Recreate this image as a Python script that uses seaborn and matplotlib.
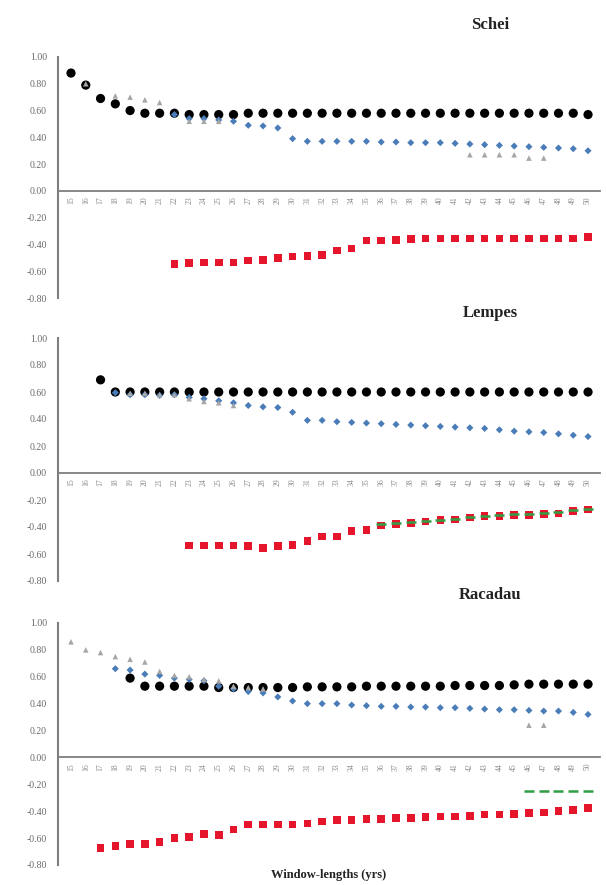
import numpy as np
import pandas as pd
import matplotlib
matplotlib.use("Agg")
import matplotlib.pyplot as plt
from matplotlib.ticker import FixedLocator, FixedFormatter
import seaborn as sns

sns.set_style("white")
plt.rcParams['font.family'] = ['Liberation Serif', 'DejaVu Serif']
plt.rcParams['axes.unicode_minus'] = False

N = np.nan
windows = list(range(15, 51))  # 36 window lengths
ytick_vals = [-0.8, -0.6, -0.4, -0.2, 0.0, 0.2, 0.4, 0.6, 0.8, 1.0]
ytick_labels = ["-0.80", "-0.60", "-0.40", "-0.20", "0.00", "0.20", "0.40", "0.60", "0.80", "1.00"]

# ---------------- Schei ----------------
schei_black = [0.88, 0.79, 0.69, 0.65, 0.60, 0.58, 0.58, 0.58, 0.57, 0.57, 0.57, 0.57,
               0.58, 0.58, 0.58, 0.58, 0.58, 0.58, 0.58, 0.58, 0.58, 0.58, 0.58, 0.58,
               0.58, 0.58, 0.58, 0.58, 0.58, 0.58, 0.58, 0.58, 0.58, 0.58, 0.58, 0.57]
schei_blue = [N, N, N, N, N, N, N, 0.57, 0.54, 0.54, 0.53, 0.52,
              0.49, 0.485, 0.47, 0.39, 0.37, 0.37, 0.37, 0.37, 0.37, 0.365, 0.365, 0.36,
              0.36, 0.36, 0.355, 0.35, 0.345, 0.34, 0.335, 0.33, 0.325, 0.32, 0.315, 0.30]
schei_tri = [N, 0.80, N, 0.71, 0.70, 0.68, 0.66, N, 0.52, 0.52, 0.52, N,
             N, N, N, N, N, N, N, N, N, N, N, N,
             N, N, N, 0.27, 0.27, 0.27, 0.27, 0.245, 0.245, N, N, N]
schei_red = [N, N, N, N, N, N, N, -0.545, -0.54, -0.535, -0.535, -0.535,
             -0.52, -0.515, -0.50, -0.49, -0.485, -0.48, -0.445, -0.43, -0.37, -0.37, -0.365, -0.36,
             -0.355, -0.355, -0.355, -0.355, -0.355, -0.355, -0.355, -0.355, -0.355, -0.355, -0.355, -0.345]
schei_green = [N] * 36

# ---------------- Lempes ----------------
lempes_black = [N, N, 0.69, 0.60, 0.60, 0.60, 0.60, 0.60, 0.60, 0.60, 0.60, 0.60,
                0.60, 0.60, 0.60, 0.60, 0.60, 0.60, 0.60, 0.60, 0.60, 0.60, 0.60, 0.60,
                0.60, 0.60, 0.60, 0.60, 0.60, 0.60, 0.60, 0.60, 0.60, 0.60, 0.60, 0.60]
lempes_blue = [N, N, N, 0.595, 0.58, 0.58, 0.575, 0.58, 0.56, 0.55, 0.535, 0.52,
               0.50, 0.49, 0.485, 0.45, 0.39, 0.39, 0.38, 0.375, 0.37, 0.365, 0.36, 0.355,
               0.35, 0.345, 0.34, 0.335, 0.33, 0.32, 0.31, 0.305, 0.30, 0.29, 0.28, 0.27]
lempes_tri = [N, N, N, N, 0.59, 0.59, 0.58, 0.58, 0.55, 0.53, 0.52, 0.50,
              N, N, N, N, N, N, N, N, N, N, N, N,
              N, N, N, N, N, N, N, N, N, N, N, N]
lempes_red = [N, N, N, N, N, N, N, N, -0.537, -0.537, -0.537, -0.537,
              -0.54, -0.555, -0.54, -0.535, -0.505, -0.47, -0.47, -0.43, -0.42, -0.39, -0.38, -0.37,
              -0.36, -0.35, -0.345, -0.33, -0.32, -0.32, -0.31, -0.31, -0.305, -0.30, -0.28, -0.27]
lempes_green = [N, N, N, N, N, N, N, N, N, N, N, N,
                N, N, N, N, N, N, N, N, N, -0.38, -0.37, -0.36,
                -0.355, -0.345, -0.34, -0.325, -0.315, -0.31, -0.305, -0.30, -0.295, -0.29, -0.275, -0.265]

# ---------------- Racadau ----------------
racadau_black = [N, N, N, N, 0.59, 0.53, 0.53, 0.53, 0.53, 0.53, 0.52, 0.52,
                 0.52, 0.52, 0.52, 0.52, 0.525, 0.525, 0.525, 0.525, 0.53, 0.53, 0.53, 0.53,
                 0.53, 0.53, 0.535, 0.535, 0.535, 0.535, 0.54, 0.545, 0.545, 0.545, 0.545, 0.545]
racadau_blue = [N, N, N, 0.66, 0.65, 0.62, 0.61, 0.59, 0.58, 0.57, 0.53, 0.51,
                0.49, 0.48, 0.45, 0.42, 0.40, 0.40, 0.40, 0.39, 0.385, 0.38, 0.38, 0.375,
                0.375, 0.37, 0.37, 0.365, 0.36, 0.355, 0.355, 0.35, 0.345, 0.345, 0.335, 0.32]
racadau_tri = [0.86, 0.80, 0.78, 0.75, 0.73, 0.71, 0.64, 0.61, 0.60, 0.58, 0.57, 0.53,
               0.52, 0.51, N, N, N, N, N, N, N, N, N, N,
               N, N, N, N, N, N, N, 0.24, 0.24, N, N, N]
racadau_red = [N, N, -0.675, -0.66, -0.645, -0.645, -0.63, -0.60, -0.59, -0.57, -0.575, -0.535,
               -0.50, -0.50, -0.50, -0.50, -0.49, -0.475, -0.465, -0.465, -0.46, -0.46, -0.45, -0.45,
               -0.445, -0.44, -0.44, -0.435, -0.425, -0.425, -0.42, -0.415, -0.41, -0.40, -0.39, -0.375]
racadau_green = [N, N, N, N, N, N, N, N, N, N, N, N,
                 N, N, N, N, N, N, N, N, N, N, N, N,
                 N, N, N, N, N, N, N, -0.25, -0.25, -0.25, -0.25, -0.25]

sites = ["Schei", "Lempes", "Racadau"]
site_data = {
    "Schei": (schei_black, schei_blue, schei_tri, schei_red, schei_green),
    "Lempes": (lempes_black, lempes_blue, lempes_tri, lempes_red, lempes_green),
    "Racadau": (racadau_black, racadau_blue, racadau_tri, racadau_red, racadau_green),
}

styles = [
    dict(marker="o", color="#000000", s=44, edgecolor="none"),
    dict(marker="D", color="#4a7db8", s=13, edgecolor="none"),
    dict(marker="^", color="#a6a6a6", s=16, edgecolor="none"),
    dict(marker="s", color="#e5162c", s=30, edgecolor="none"),
    dict(marker="_", color="#2f9e44", s=50, linewidth=1.8),
]

fig = plt.figure(figsize=(6.06, 8.85), dpi=100)
W, H = 606.0, 885.0
panel_px = [(57, 298), (338, 581), (623, 865)]
title_y = [25, 313, 595]
left_px, right_px = 58, 600
idx = np.arange(len(windows))

for k, site in enumerate(sites):
    top, bot = panel_px[k]
    ax = fig.add_axes([left_px / W, 1 - bot / H, (right_px - left_px) / W, (bot - top) / H])
    for series, st in zip(site_data[site], styles):
        df = pd.DataFrame({"x": idx, "y": series}).dropna()
        sns.scatterplot(data=df, x="x", y="y", ax=ax, legend=False, zorder=3, **st)
    ax.set_ylim(-0.8, 1.0)
    ax.set_xlim(-0.88, 35.81)
    ax.yaxis.set_major_locator(FixedLocator(ytick_vals))
    ax.yaxis.set_major_formatter(FixedFormatter(ytick_labels))
    ax.xaxis.set_major_locator(FixedLocator(idx))
    ax.xaxis.set_major_formatter(FixedFormatter([str(w) for w in windows]))
    ax.tick_params(axis="x", length=0, pad=4, labelrotation=90, labelsize=5.5, labelcolor="#8a8a8a")
    ax.tick_params(axis="y", length=2, width=0.6, color="#888888", labelsize=7,
                   labelcolor="#6a6a6a", pad=6)
    for sp in ["top", "right"]:
        ax.spines[sp].set_visible(False)
    ax.spines["bottom"].set_position(("data", 0))
    ax.spines["bottom"].set_color("#7f7f7f")
    ax.spines["bottom"].set_linewidth(1.3)
    ax.spines["left"].set_color("#7f7f7f")
    ax.spines["left"].set_linewidth(1.5)
    ax.set_xlabel("")
    ax.set_ylabel("")
    ax.grid(False)
    fig.text(490 / W, 1 - title_y[k] / H, site, ha="center", va="center",
             fontsize=12, fontweight="bold", color="#222222")

fig.text(329 / W, 1 - 875 / H, "Window-lengths (yrs)", ha="center", va="center",
         fontsize=9, fontweight="bold", color="#222222")

fig.savefig("out.png", dpi=100)
